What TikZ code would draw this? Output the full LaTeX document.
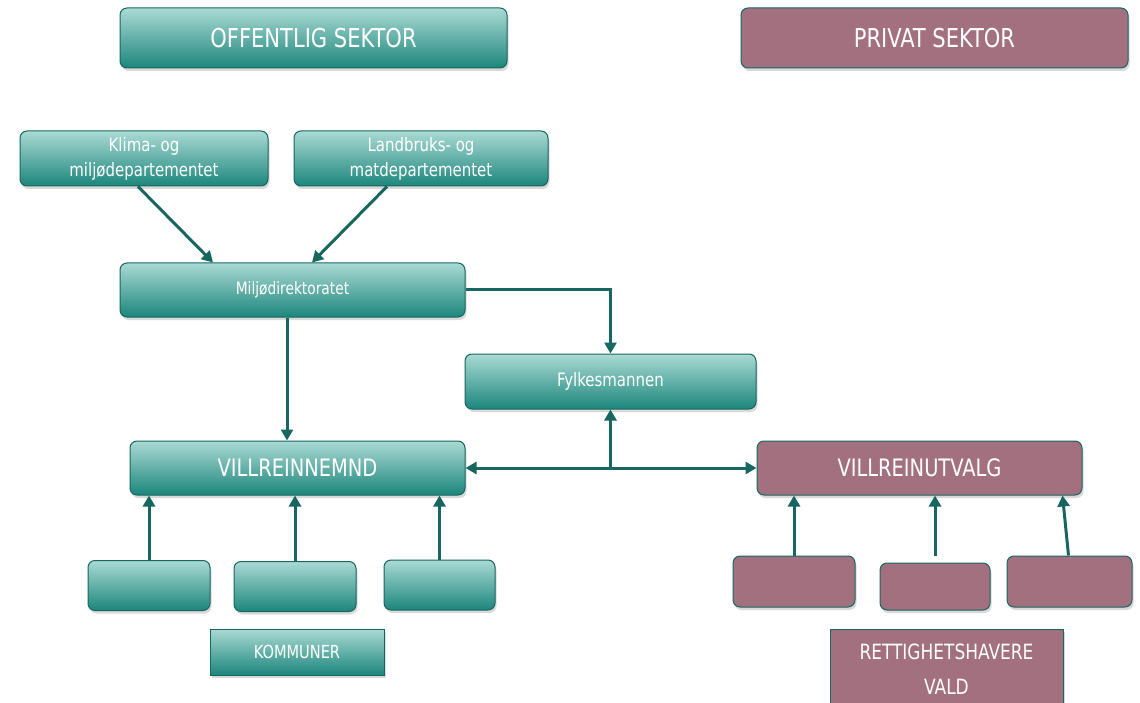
\documentclass[tikz,border=0pt]{standalone}
\usepackage{fontspec}
\setmainfont[FakeStretch=0.9]{DejaVu Sans Condensed}
\usetikzlibrary{shadows,arrows.meta}
\definecolor{VRteal}{HTML}{1C867C}
\definecolor{VRlight}{HTML}{AADAD4}
\definecolor{VRline}{HTML}{17665F}
\definecolor{VRpink}{HTML}{A3707F}

\tikzset{
  offbox/.style={draw=VRline, line width=1pt, rounded corners=7pt,
    top color=VRlight, bottom color=VRteal, text=white, inner sep=0pt,
    align=center, drop shadow={opacity=0.3, shadow xshift=1.5pt, shadow yshift=-3pt}},
  privbox/.style={draw=VRline, line width=1pt, rounded corners=7pt,
    fill=VRpink, text=white, inner sep=0pt, align=center,
    drop shadow={opacity=0.3, shadow xshift=1.5pt, shadow yshift=-3pt}},
  tagbox/.style={rounded corners=0pt},
  bigtext/.style={font=\fontsize{26}{30}\selectfont},
  midtext/.style={font=\fontsize{24}{28}\selectfont},
  smalltext/.style={font=\fontsize{18.5}{25}\selectfont},
  tagtext/.style={font=\fontsize{21}{35}\selectfont},
  flow/.style={VRline, line width=3pt, -{Triangle[length=11pt,width=12pt]}},
  twoflow/.style={VRline, line width=3pt, {Triangle[length=11pt,width=12pt]}-{Triangle[length=11pt,width=12pt]}}
}

\begin{document}
\begin{tikzpicture}[x=1pt, y=-1pt]
    \useasboundingbox (0,0) rectangle (1140,703);

    % Sector headings
    \node[offbox, bigtext, minimum width=387pt, minimum height=60pt] (offentlig) at (313.5,38) {OFFENTLIG SEKTOR};
    \node[privbox, bigtext, minimum width=387pt, minimum height=60pt] (privat) at (934.5,38) {PRIVAT SEKTOR};

    % Ministries
    \node[offbox, smalltext, minimum width=248pt, minimum height=55pt] (klima) at (144,158.5) {Klima- og\\miljødepartementet};
    \node[offbox, smalltext, minimum width=254pt, minimum height=55pt] (landbruk) at (421,158.5) {Landbruks- og\\matdepartementet};

    % Directorate and county
    \node[offbox, smalltext, font=\fontsize{17}{25}\selectfont, minimum width=345pt, minimum height=54pt] (miljo) at (292.5,290) {Miljødirektoratet};
    \node[offbox, smalltext, minimum width=291pt, minimum height=55pt] (fylke) at (610.5,381.5) {Fylkesmannen};

    % Boards
    \node[offbox, midtext, minimum width=335pt, minimum height=54pt] (nemnd) at (297.5,468) {VILLREINNEMND};
    \node[privbox, midtext, minimum width=325pt, minimum height=54pt] (utvalg) at (919.5,468) {VILLREINUTVALG};

    % Municipalities
    \node[offbox, minimum width=122pt, minimum height=50pt] (kom1) at (149,585.5) {};
    \node[offbox, minimum width=122pt, minimum height=50pt] (kom2) at (295,586.5) {};
    \node[offbox, minimum width=111pt, minimum height=50pt] (kom3) at (439.5,585) {};
    \node[offbox, tagbox, font=\fontsize{18}{26}\selectfont, minimum width=174pt, minimum height=46pt] (kommuner) at (297,652) {KOMMUNER};

    % Right holders
    \node[privbox, minimum width=122pt, minimum height=51pt] (rett1) at (794,581.5) {};
    \node[privbox, minimum width=110pt, minimum height=47pt] (rett2) at (935,586.5) {};
    \node[privbox, minimum width=125pt, minimum height=51pt] (rett3) at (1069.5,581.5) {};
    \node[privbox, tagbox, tagtext, minimum width=233pt, minimum height=80pt] (vald) at (946.5,669) {RETTIGHETSHAVERE\\VALD};

    % Arrows between the levels
    \draw[flow] ([xshift=-6pt]klima.south) -- ([xshift=-79.5pt]miljo.north);
    \draw[flow] ([xshift=-34pt]landbruk.south) -- ([xshift=19.5pt]miljo.north);
    \draw[flow] ([xshift=-5.5pt]miljo.south) -- ([xshift=-10.5pt]nemnd.north);
    \draw[flow] (miljo.east) -| (fylke.north);
    \draw[twoflow] (nemnd.east) -- (utvalg.west);
    \draw[flow] (nemnd.east -| fylke.south) -- (fylke.south);

    % Arrows from the small boxes
    \draw[flow] (kom1.north) -- (kom1.north |- nemnd.south);
    \draw[flow] (kom2.north) -- (kom2.north |- nemnd.south);
    \draw[flow] (kom3.north) -- (kom3.north |- nemnd.south);
    \draw[flow] (rett1.north) -- (rett1.north |- utvalg.south);
    \draw[flow] ([yshift=7pt]rett2.north) -- (rett2.north |- utvalg.south);
    \draw[flow] ([xshift=-1pt]rett3.north) -- ([xshift=-7pt]rett3.north |- utvalg.south);
\end{tikzpicture}
\end{document}
